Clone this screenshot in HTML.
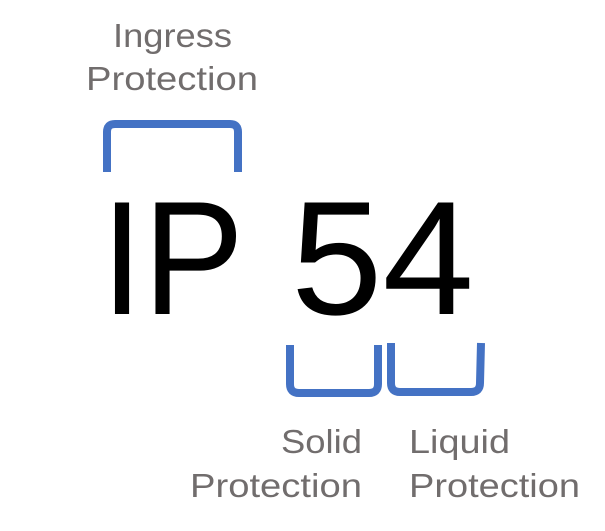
<!DOCTYPE html>
<html><head><meta charset="utf-8"><style>
html,body{margin:0;padding:0;background:#fff;width:605px;height:531px;overflow:hidden}
svg{display:block}
.g{font-family:"Liberation Sans",sans-serif;font-size:33px;fill:#716d6d}
.b{font-family:"Liberation Sans",sans-serif;font-size:162px;fill:#000}
</style></head><body>
<svg width="605" height="531" viewBox="0 0 605 531">
<text class="g" x="113" y="47" textLength="119" lengthAdjust="spacingAndGlyphs">Ingress</text>
<text class="g" x="86" y="90" textLength="172" lengthAdjust="spacingAndGlyphs">Protection</text>
<path d="M107 172 L107 132 Q107 124 115 124 L230 124 Q238 124 238 132 L238 172" fill="none" stroke="#4472C4" stroke-width="8"/>
<text class="b" x="101" y="314" textLength="143" lengthAdjust="spacingAndGlyphs">IP</text>
<text class="b" x="291" y="314" font-size="150" textLength="183" lengthAdjust="spacingAndGlyphs">54</text>
<path d="M290 345 L290 384 Q290 393 299 393 L369 393 Q378 393 378 384 L378 345" fill="none" stroke="#4472C4" stroke-width="8"/>
<path d="M391 343 L391 383 Q391 392 400 392 L471 392 Q480 392 480 383 L481 343" fill="none" stroke="#4472C4" stroke-width="8"/>
<text class="g" x="281" y="453" textLength="81" lengthAdjust="spacingAndGlyphs">Solid</text>
<text class="g" x="190" y="497" textLength="172" lengthAdjust="spacingAndGlyphs">Protection</text>
<text class="g" x="409" y="453" textLength="101" lengthAdjust="spacingAndGlyphs">Liquid</text>
<text class="g" x="409" y="497" textLength="171" lengthAdjust="spacingAndGlyphs">Protection</text>
</svg>
</body></html>
